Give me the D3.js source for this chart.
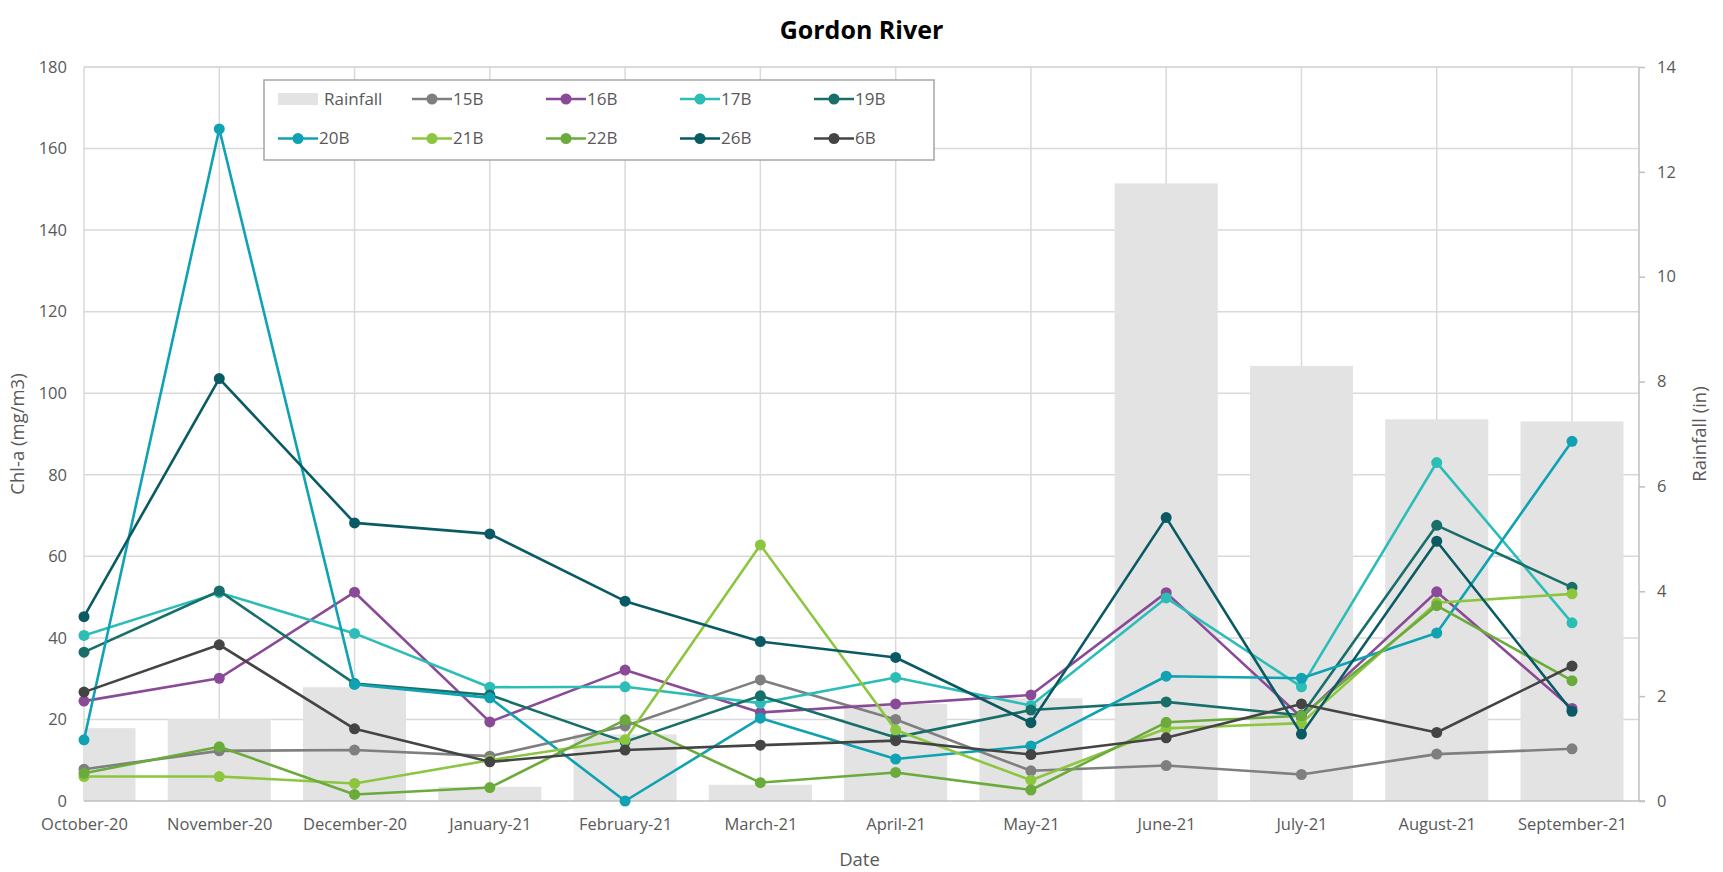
<!DOCTYPE html>
<html>
<head>
<meta charset="utf-8">
<script src="https://cdn.jsdelivr.net/npm/d3@7"></script>
<style>
  body { margin: 0; background: #fff; }
  .tick text { font-family: "Open Sans", sans-serif; font-size: 16.5px; fill: #595959; }
  .axis-title { font-family: "Open Sans", sans-serif; font-size: 18.5px; fill: #595959; }
  .legend text { font-family: "Liberation Sans Narrow", "Open Sans", sans-serif; font-size: 17px; fill: #595959; }
</style>
</head>
<body>
<div id="chart"></div>
<script>
// months on the x axis
const months = ["October-20", "November-20", "December-20", "January-21", "February-21", "March-21",
    "April-21", "May-21", "June-21", "July-21", "August-21", "September-21"];

// rainfall (in), right axis
const rainfall = [1.39, 1.56, 2.17, 0.27, 1.27, 0.31, 1.85, 1.96, 11.78, 8.30, 7.28, 7.24];

// Chl-a (mg/m3) by station
const s15B = [7.8, 12.3, 12.5, 11.0, 18.4, 29.7, 20.0, 7.4, 8.7, 6.5, 11.5, 12.8];
const s16B = [24.5, 30.1, 51.2, 19.4, 32.1, 21.7, 23.8, 26.0, 51.1, 20.5, 51.3, 22.7];
const s17B = [40.6, 51.1, 41.1, 27.9, 28.0, 24.0, 30.3, 23.4, 49.8, 28.0, 83.0, 43.7];
const s19B = [36.5, 51.5, 28.8, 26.0, 14.5, 25.8, 15.6, 22.3, 24.3, 21.0, 67.6, 52.4];
const s20B = [15.0, 164.8, 28.6, 25.3, 0.0, 20.3, 10.3, 13.5, 30.6, 30.1, 41.2, 88.2];
const s21B = [6.0, 6.0, 4.3, 10.0, 15.0, 62.8, 17.4, 5.1, 17.8, 19.1, 48.6, 50.8];
const s22B = [6.8, 13.3, 1.6, 3.3, 19.9, 4.5, 7.0, 2.7, 19.3, 20.9, 47.9, 29.5];
const s26B = [45.2, 103.6, 68.2, 65.5, 49.0, 39.1, 35.2, 19.2, 69.5, 16.4, 63.7, 22.0];
const s6B  = [26.7, 38.3, 17.7, 9.6, 12.5, 13.7, 14.8, 11.4, 15.5, 23.8, 16.8, 33.1];

const seriesNames = ["15B", "16B", "17B", "19B", "20B", "21B", "22B", "26B", "6B"];
const seriesValues = [s15B, s16B, s17B, s19B, s20B, s21B, s22B, s26B, s6B];
const seriesColors = ["#7f7f7f", "#8a4a98", "#2cbdb7", "#186f69", "#0fa2b3", "#8cc63f", "#6aab3c", "#0a5a64", "#444444"];

const leftTicks = [0, 20, 40, 60, 80, 100, 120, 140, 160, 180];
const rightTicks = [0, 2, 4, 6, 8, 10, 12, 14];

const W = 1723, H = 872;
const margin = { top: 67, right: 84, bottom: 71, left: 84 };
const plotW = W - margin.left - margin.right;   // plot area width
const plotH = H - margin.top - margin.bottom;
const lastPoint = 1488;                           // x of the last month inside plot

const svg = d3.select("#chart").append("svg")
    .attr("width", W)
    .attr("height", H);

const g = svg.append("g")
    .attr("transform", "translate(" + margin.left + "," + margin.top + ")");

// Scales
const x = d3.scalePoint()
    .domain(months)
    .range([0, lastPoint]);

const step = x.step();
const barW = step * 0.762;

const y = d3.scaleLinear()
    .domain([0, 180])
    .range([plotH, 0]);

const yR = d3.scaleLinear()
    .domain([0, 14])
    .range([plotH, 0]);

// clip for bars
svg.append("defs").append("clipPath")
    .attr("id", "plot-clip")
    .append("rect")
    .attr("width", plotW)
    .attr("height", plotH);

// Gridlines
g.append("g")
    .selectAll("line.hgrid")
    .data(leftTicks.slice(1))
    .enter().append("line")
    .attr("x1", 0).attr("x2", plotW)
    .attr("y1", d => y(d)).attr("y2", d => y(d))
    .attr("stroke", "#d9d9d9").attr("stroke-width", 1.5);

g.append("g")
    .selectAll("line.vgrid")
    .data(months)
    .enter().append("line")
    .attr("x1", d => x(d)).attr("x2", d => x(d))
    .attr("y1", 0).attr("y2", plotH)
    .attr("stroke", "#d9d9d9").attr("stroke-width", 1.5);

// Rainfall bars
g.append("g")
    .attr("clip-path", "url(#plot-clip)")
    .selectAll("rect")
    .data(rainfall)
    .enter().append("rect")
    .attr("x", (d, i) => x(months[i]) - barW / 2)
    .attr("width", barW)
    .attr("y", d => yR(d))
    .attr("height", d => plotH - yR(d))
    .attr("fill", "#e3e3e3");

// Axes
const xAxis = d3.axisBottom(x).tickSize(0).tickPadding(17);
const yAxis = d3.axisLeft(y).tickValues(leftTicks).tickSize(0).tickPadding(17);
const yAxisR = d3.axisRight(yR).tickValues(rightTicks).tickSize(6).tickPadding(12);

g.append("g")
    .attr("class", "x-axis axis")
    .attr("transform", "translate(0," + plotH + ")")
    .call(xAxis);

g.append("g")
    .attr("class", "y-axis axis")
    .call(yAxis);

g.append("g")
    .attr("class", "y-axis-r axis")
    .attr("transform", "translate(" + plotW + ",0)")
    .call(yAxisR);

g.selectAll(".x-axis path, .y-axis path").remove();
g.selectAll(".y-axis-r path").attr("stroke", "#bfbfbf").attr("stroke-width", 1.5).attr("d", "M0,0V" + plotH);
g.selectAll(".y-axis-r line").attr("stroke", "#bfbfbf").attr("stroke-width", 1.5);

// bottom axis line
g.append("line")
    .attr("x1", 0).attr("x2", plotW + 6)
    .attr("y1", plotH).attr("y2", plotH)
    .attr("stroke", "#bfbfbf").attr("stroke-width", 1.5);
// top border gridline
g.append("line")
    .attr("x1", 0).attr("x2", plotW)
    .attr("y1", 0).attr("y2", 0)
    .attr("stroke", "#d9d9d9").attr("stroke-width", 1.5);

// Lines and markers
const line = d3.line()
    .x((d, i) => x(months[i]))
    .y(d => y(d));

seriesValues.forEach((vals, k) => {
    g.append("path")
        .datum(vals)
        .attr("fill", "none")
        .attr("stroke", seriesColors[k])
        .attr("stroke-width", 2.6)
        .attr("stroke-linejoin", "round")
        .attr("d", line);
    g.append("g")
        .selectAll("circle")
        .data(vals)
        .enter().append("circle")
        .attr("cx", (d, i) => x(months[i]))
        .attr("cy", d => y(d))
        .attr("r", 5.5)
        .attr("fill", seriesColors[k]);
});

// Title
svg.append("text")
    .attr("x", W / 2)
    .attr("y", 39)
    .attr("text-anchor", "middle")
    .style("font-family", "'Liberation Sans Narrow', 'Open Sans', sans-serif")
    .style("font-weight", "bold")
    .style("font-size", "25px")
    .style("fill", "#000")
    .text("Gordon River");

// Axis titles
svg.append("text")
    .attr("class", "axis-title")
    .attr("x", margin.left + plotW / 2 - 2)
    .attr("y", 866)
    .style("text-anchor", "middle")
    .text("Date");

svg.append("text")
    .attr("class", "axis-title")
    .attr("transform", "translate(24," + (margin.top + plotH / 2) + ") rotate(-90)")
    .style("text-anchor", "middle")
    .text("Chl-a (mg/m3)");

svg.append("text")
    .attr("class", "axis-title")
    .attr("transform", "translate(1706," + (margin.top + plotH / 2) + ") rotate(-90)")
    .style("text-anchor", "middle")
    .style("font-family", "'Liberation Sans Narrow', 'Open Sans', sans-serif")
    .text("Rainfall (in)");

// Legend
const legend = svg.append("g")
    .attr("class", "legend")
    .attr("transform", "translate(264,80)");

legend.append("rect")
    .attr("width", 670)
    .attr("height", 80)
    .attr("fill", "#fff")
    .attr("stroke", "#a6a6a6")
    .attr("stroke-width", 1.5);

const legendItems = [{ name: "Rainfall", color: "#e3e3e3", bar: true }]
    .concat(seriesNames.map((n, k) => ({ name: n, color: seriesColors[k], bar: false })));

legendItems.forEach((d, i) => {
    const col = i % 5, row = Math.floor(i / 5);
    const item = legend.append("g")
        .attr("transform", "translate(" + (14 + col * 134) + "," + (19 + row * 39.5) + ")");
    if (d.bar) {
        item.append("rect")
            .attr("x", 0).attr("y", -6)
            .attr("width", 40).attr("height", 12)
            .attr("fill", d.color);
    } else {
        item.append("line")
            .attr("x1", 0).attr("x2", 40)
            .attr("stroke", d.color).attr("stroke-width", 2.6);
        item.append("circle")
            .attr("cx", 20).attr("r", 5.5)
            .attr("fill", d.color);
    }
    item.append("text")
        .attr("x", d.bar ? 46 : 41)
        .attr("dy", "0.35em")
        .text(d.name);
});
</script>
</body>
</html>
